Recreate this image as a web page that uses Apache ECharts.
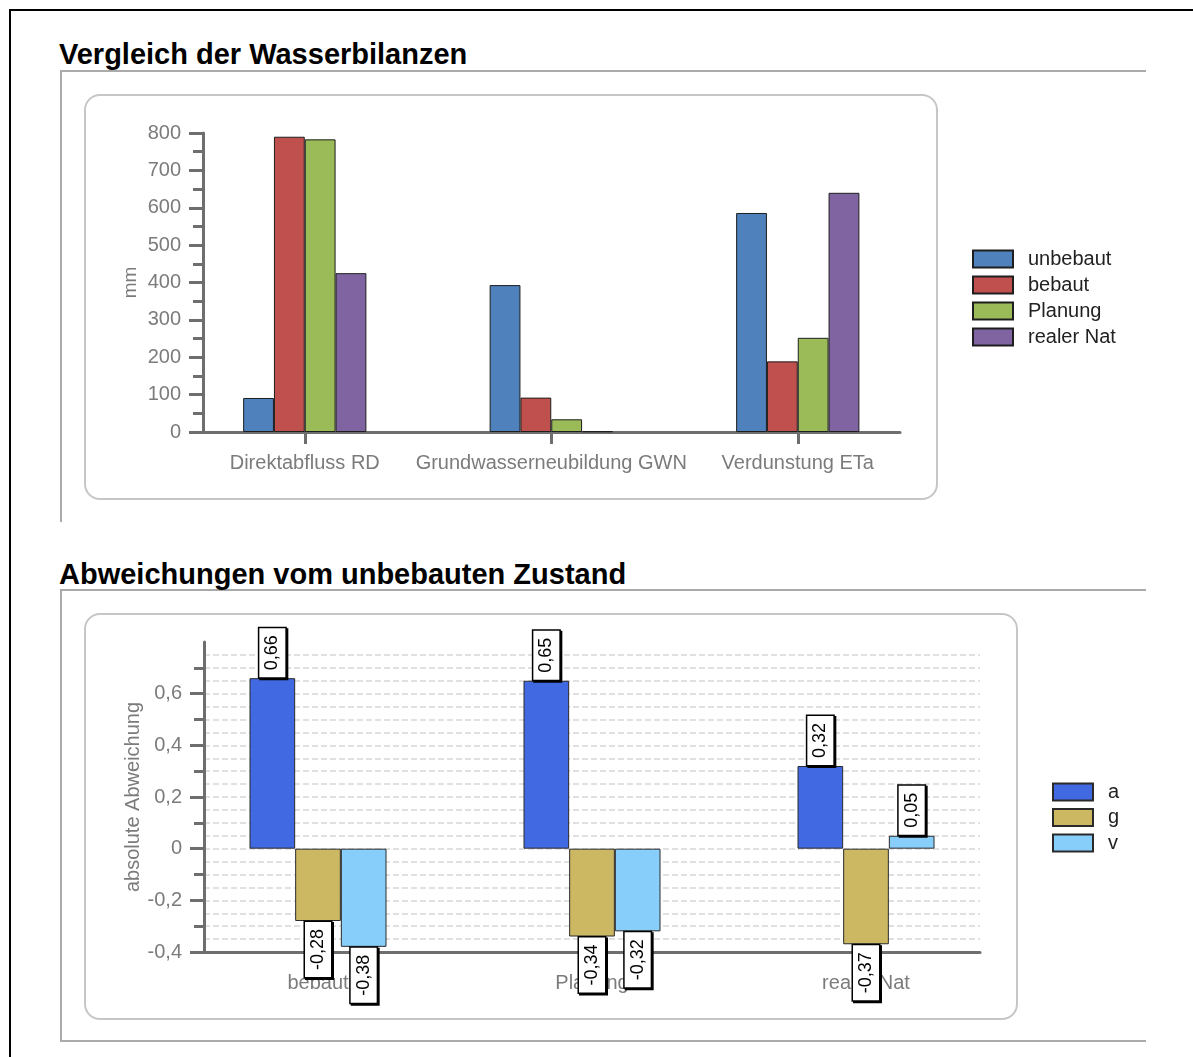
<!DOCTYPE html>
<html><head><meta charset="utf-8">
<script src="https://cdn.jsdelivr.net/npm/echarts@6/dist/echarts.min.js"></script>
<style>
html,body{margin:0;padding:0;background:#fff;width:1193px;height:1057px;overflow:hidden;font-family:"Liberation Sans",Arial,sans-serif;}
.abs{position:absolute;box-sizing:border-box;}
.title{font-size:29px;line-height:29px;font-weight:bold;color:#000;white-space:nowrap;}
</style></head><body>
<div class="abs" style="left:9px;top:9px;width:1200px;height:1060px;border-left:2px solid #000;border-top:2px solid #000;"></div>
<div class="abs" style="left:60px;top:70px;width:1086px;height:452px;border-left:2px solid #aaa;border-top:2px solid #aaa;"></div>
<div class="abs" style="left:60px;top:589px;width:1086px;height:453px;border-left:2px solid #aaa;border-top:2px solid #aaa;border-bottom:2px solid #aaa;"></div>
<div class="abs" style="left:84px;top:94px;width:854px;height:406px;border:2px solid #c6c6c6;border-radius:16px;"></div>
<div class="abs" style="left:84px;top:613px;width:934px;height:407px;border:2px solid #c6c6c6;border-radius:16px;"></div>
<div class="abs title" style="left:59px;top:40px;">Vergleich der Wasserbilanzen</div>
<div class="abs title" style="left:59px;top:560px;">Abweichungen vom unbebauten Zustand</div>
<div id="chart" class="abs" style="left:0;top:0;width:1193px;height:1057px;"></div>
<script>
const categories1 = ['Direktabfluss RD', 'Grundwasserneubildung GWN', 'Verdunstung ETa'];
const unbebaut = [91, 393, 586];
const bebaut = [790, 92, 189];
const planung = [783, 34, 252];
const realerNat = [425, 2, 640];

const categories2 = ['bebaut', 'Planung', 'realer Nat'];
const devA = [0.66, 0.65, 0.32];
const devG = [-0.28, -0.34, -0.37];
const devV = [-0.38, -0.32, 0.05];

const devTicks = [-0.4, -0.2, 0, 0.2, 0.4, 0.6];

const GRAY = '#7b7b7b', AX = '#6e6e6e', FONT = '"Liberation Sans", Arial, sans-serif';
const comma = v => String(Math.round(v * 100) / 100).replace('.', ',');

function bar1(name, data, color) {
  return { type: 'bar', name, data, xAxisIndex: 0, yAxisIndex: 0, barGap: '0%', barCategoryGap: '50%',
    itemStyle: { color, borderColor: '#1e1e1e', borderWidth: 1 } };
}
function bar2(name, vals, color) {
  return { type: 'bar', name, xAxisIndex: 2, yAxisIndex: 2, barGap: '0%', barCategoryGap: '50%',
    itemStyle: { color, borderColor: '#2a2a2a', borderWidth: 1 },
    data: vals.map(v => ({ value: v, label: { position: v >= 0 ? 'top' : 'bottom', align: v >= 0 ? 'left' : 'right' } })),
    label: { show: true, rotate: 90, verticalAlign: 'middle', distance: 1, formatter: p => comma(p.value),
      fontFamily: FONT, fontSize: 18, lineHeight: 18, color: '#000', backgroundColor: '#fff',
      borderColor: '#000', borderWidth: 1.5, padding: [4, 7, 4, 7],
      shadowColor: '#000', shadowBlur: 0, shadowOffsetX: 1.5, shadowOffsetY: 1.5 } };
}

const valueXAxis = gi => ({ type: 'value', gridIndex: gi, min: 0, max: 1,
  axisLine: { show: true, onZero: false, lineStyle: { color: AX, width: 3 } },
  axisTick: { show: false }, axisLabel: { show: false }, splitLine: { show: false } });

const legendText = { fontSize: 20, color: '#222', padding: [0, 0, 0, 10] };

const chart = echarts.init(document.getElementById('chart'), null, { renderer: 'canvas' });
chart.setOption({
  backgroundColor: 'transparent',
  animation: false,
  textStyle: { fontFamily: FONT },
  grid: [
    { left: 181.5, width: 739.5, top: 133, height: 299 },
    { left: 203, width: 697, top: 133, height: 299 },
    { left: 181, width: 822, top: 642, height: 310 },
    { left: 204, width: 776, top: 642, height: 310 }
  ],
  legend: [
    { data: ['unbebaut', 'bebaut', 'Planung', 'realer Nat'], orient: 'vertical', left: 967, top: 244,
      itemWidth: 40, itemHeight: 17, itemGap: 6, icon: 'rect', textStyle: legendText },
    { data: ['a', 'g', 'v'], orient: 'vertical', left: 1047, top: 777,
      itemWidth: 40, itemHeight: 17, itemGap: 5.5, icon: 'rect', textStyle: legendText }
  ],
  xAxis: [
    { type: 'category', gridIndex: 0, data: categories1,
      axisLine: { show: false }, axisTick: { show: true, alignWithLabel: true, length: 12, lineStyle: { color: AX, width: 3 } },
      axisLabel: { color: GRAY, fontSize: 20, margin: 21, interval: 0, hideOverlap: false } },
    valueXAxis(1),
    { type: 'category', gridIndex: 2, data: categories2,
      axisLine: { show: false }, axisTick: { show: false },
      axisLabel: { color: GRAY, fontSize: 20, margin: 21, interval: 0 } },
    valueXAxis(3)
  ],
  yAxis: [
    { type: 'value', gridIndex: 0, min: 0, max: 800, show: false },
    { type: 'value', gridIndex: 1, min: 0, max: 800, interval: 100,
      axisLine: { show: true, onZero: false, lineStyle: { color: AX, width: 3 } },
      axisTick: { show: true, length: 14, lineStyle: { color: AX, width: 3 } },
      minorTick: { show: true, splitNumber: 2, length: 10, lineStyle: { color: AX, width: 3 } },
      axisLabel: { color: GRAY, fontSize: 20, margin: 22 },
      splitLine: { show: false }, minorSplitLine: { show: false },
      name: 'mm', nameLocation: 'middle', nameGap: 63, nameMoveOverlap: false, nameTextStyle: { color: GRAY, fontSize: 19 } },
    { type: 'value', gridIndex: 2, min: -0.4, max: 0.8, show: false },
    { type: 'value', gridIndex: 3, min: -0.4, max: 0.8, interval: 0.2,
      axisLine: { show: true, onZero: false, lineStyle: { color: AX, width: 3 } },
      axisTick: { show: true, length: 14, customValues: devTicks, lineStyle: { color: AX, width: 3 } },
      minorTick: { show: true, splitNumber: 2, length: 10, lineStyle: { color: AX, width: 3 } },
      axisLabel: { color: GRAY, fontSize: 20, margin: 22, customValues: devTicks, formatter: v => comma(v) },
      splitLine: { show: false }, minorSplitLine: { show: false },
      name: 'absolute Abweichung', nameLocation: 'middle', nameGap: 61, nameMoveOverlap: false, nameTextStyle: { color: GRAY, fontSize: 20 } },
    { type: 'value', gridIndex: 3, min: -0.4, max: 0.8, interval: 0.05,
      axisLine: { show: false }, axisTick: { show: false }, axisLabel: { show: false },
      splitLine: { show: true, showMinLine: false, showMaxLine: false, lineStyle: { color: '#d6d6d6', width: 1.5, type: [6, 3] } } }
  ],
  series: [
    bar1('unbebaut', unbebaut, '#4f81bd'),
    bar1('bebaut', bebaut, '#c0504d'),
    bar1('Planung', planung, '#9bbb59'),
    bar1('realer Nat', realerNat, '#8064a2'),
    bar2('a', devA, '#4169e1'),
    bar2('g', devG, '#ccb862'),
    bar2('v', devV, '#87cefa')
  ]
});
</script>
</body></html>
